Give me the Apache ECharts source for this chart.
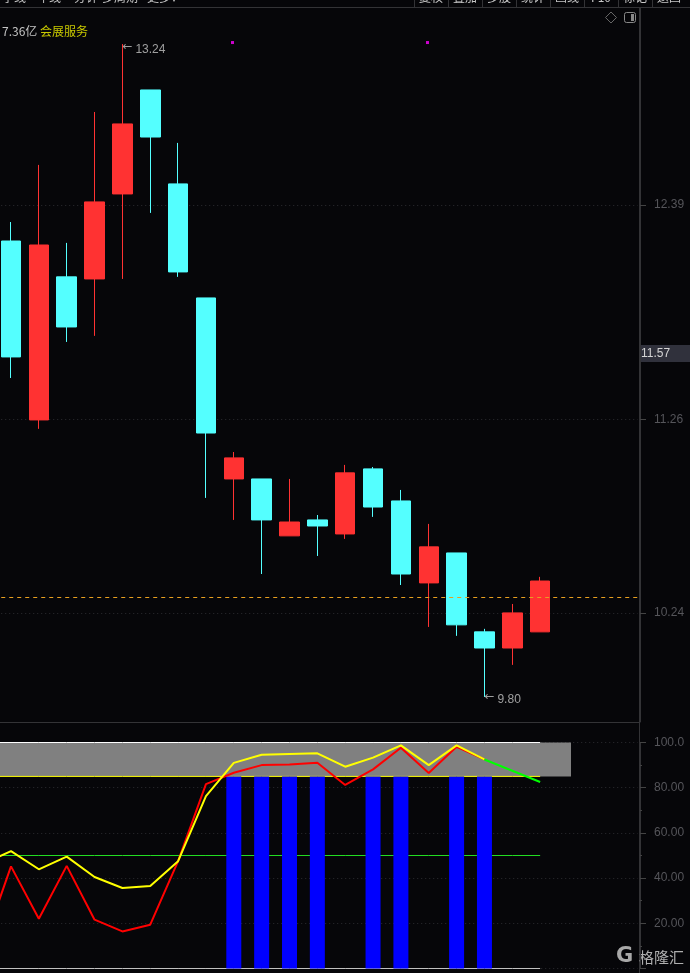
<!DOCTYPE html>
<html>
<head>
<meta charset="utf-8">
<style>html,body{margin:0;padding:0;background:#060609}#c{width:690px;height:973px}</style>
<script src="https://cdn.jsdelivr.net/npm/echarts@6/dist/echarts.min.js"></script>
</head>
<body>
<div id="c"></div>
<script>
// index 0 is a lead-in session that lies left of the visible window
const categories = ['0','1','2','3','4','5','6','7','8','9','10','11','12','13','14','15','16','17','18','19','20','21','22','23'];
const opens  = [null,12.200,11.257,12.011,12.000,12.448,12.996,12.501,11.900,10.946,10.946,10.646,10.730,10.656,10.999,10.830,10.398,10.556,10.140,10.055,10.140];
const closes = [null,11.589,12.179,11.747,12.406,12.817,12.748,12.037,11.188,11.057,10.730,10.719,10.698,10.978,10.798,10.445,10.588,10.177,10.055,10.240,10.408];
const lows   = [null,11.478,11.210,11.668,11.700,12.000,12.348,12.011,10.846,10.730,10.445,10.646,10.540,10.630,10.746,10.387,10.166,10.119,9.797,9.966,10.140];
const highs  = [null,12.300,12.601,12.190,12.880,13.238,12.996,12.717,11.900,11.088,10.946,10.946,10.756,11.020,11.009,10.888,10.709,10.556,10.156,10.287,10.430];
const priceTicks = [10.24,11.26,12.39];
const lastPrice = 10.324;
const extremes = [{idx:5,value:13.24,text:'13.24',dy:6},{idx:18,value:9.80,text:'9.80',dy:3}];
const markerDots = [[9,13.246],[16,13.246]];

const yellowLine = [46.3,51.9,43.9,49.5,40.5,35.6,36.5,47.5,76.3,91.0,94.6,94.9,95.2,89.3,93.3,98.7,90.0,98.7,92.5];
const redLine    = [9.9,45.2,22.0,45.4,21.6,16.4,19.4,47.5,81.6,86.6,90.0,90.3,91.0,81.2,88.1,97.7,86.5,98.1,92.5];
const greenLine  = [null,null,null,null,null,null,null,null,null,null,null,null,null,null,null,null,null,null,92.5,87.5,82.5];
const blueBars   = [null,null,null,null,null,null,null,null,null,85,85,85,85,null,85,85,null,85,85];
const refSpan = [0,20];
const bandSpan = [0,21];
const oscBand = [85,100];
const oscLevels = [{v:100,c:'#ffffff'},{v:85,c:'#ffff00'},{v:50,c:'#22dd22'},{v:0,c:'#c0c0c0'}];

const toolbarLeft = [['季线',14],['年线',49],['分钟',86],['多周期',120],['更多▾',162]];
const toolbarRight = ['复权','叠加','多股','统计','画线','F10','标记','返回'];

const FONT = '"Liberation Sans",Arial,sans-serif';
const CJK = '"Noto Sans CJK SC",sans-serif';
const AXC = '#333336', LBL = '#55555a';

const graphics = [
  {type:'line',shape:{x1:0,y1:7.5,x2:690,y2:7.5},style:{stroke:AXC}},
  {type:'line',shape:{x1:0,y1:722.5,x2:640,y2:722.5},style:{stroke:AXC}},
  {type:'line',shape:{x1:639.5,y1:7,x2:639.5,y2:973},style:{stroke:AXC}},
  {type:'text',x:2,y:31,style:{text:'7.36亿',fill:'#c4c4c4',font:'12px '+CJK,verticalAlign:'middle'}},
  {type:'text',x:40,y:31,style:{text:'会展服务',fill:'#c8c800',font:'12px '+CJK,verticalAlign:'middle'}},
  {type:'polygon',shape:{points:[[611,12],[616.5,17.5],[611,23],[605.5,17.5]]},style:{fill:'none',stroke:'#666'}},
  {type:'rect',shape:{x:624.5,y:12.5,width:11,height:10,r:2},style:{fill:'none',stroke:'#888'}},
  {type:'rect',shape:{x:631,y:14,width:3,height:7},style:{fill:'#888'}},
  {type:'rect',shape:{x:640,y:345,width:50,height:17},style:{fill:'#30313c'}},
  {type:'text',x:641,y:353.5,style:{text:'11.57',fill:'#d4d4d4',font:'12px '+FONT,verticalAlign:'middle'}},
  {type:'text',x:616,y:957,style:{text:'G',fill:'#a8a8a8',font:'bold 21px "DejaVu Sans"',verticalAlign:'middle'}},
  {type:'text',x:639,y:957,style:{text:'格隆汇',fill:'#b0b0b0',font:'15px '+CJK,verticalAlign:'middle'}}
];
toolbarLeft.forEach(t=>graphics.push({type:'text',x:t[1],y:-3,style:{text:t[0],fill:'#c8c8c8',font:'12px '+CJK,align:'center',verticalAlign:'middle'}}));
toolbarRight.forEach((t,i)=>{
  graphics.push({type:'text',x:431+i*34,y:-3,style:{text:t,fill:'#c8c8c8',font:'12px '+CJK,align:'center',verticalAlign:'middle'}});
  graphics.push({type:'line',shape:{x1:414.5+i*34,y1:0,x2:414.5+i*34,y2:7},style:{stroke:AXC}});
});

const refSeries = oscLevels.map(l=>({
  type:'line',xAxisIndex:1,yAxisIndex:1,z:3,silent:true,showSymbol:false,
  lineStyle:{color:l.c,width:1},
  data:categories.slice(refSpan[0],refSpan[1]+1).map(()=>l.v)
}));

const chart = echarts.init(document.getElementById('c'),null,{renderer:'canvas'});
chart.setOption({
  animation:false,
  backgroundColor:'#060609',
  graphic:graphics,
  grid:[
    {left:-30.775,width:668.4,top:8,height:714,outerBoundsMode:'none'},
    {left:-30.775,width:668.4,top:742.5,height:226,outerBoundsMode:'none'}
  ],
  xAxis:[
    {type:'category',data:categories,gridIndex:0,show:false},
    {type:'category',data:categories,gridIndex:1,show:false}
  ],
  yAxis:[
    {type:'value',gridIndex:0,position:'right',offset:2.4,min:9.665,max:13.428,scale:true,
      axisLine:{show:true,lineStyle:{color:AXC}},
      axisTick:{show:true,length:6,inside:false,customValues:priceTicks,lineStyle:{color:'#444'}},
      axisLabel:{margin:14,color:LBL,fontFamily:FONT,fontSize:12,customValues:priceTicks,formatter:v=>v.toFixed(2)},
      splitLine:{show:true,lineStyle:{color:'#2c2c30',type:[1,3]}}},
    {type:'value',gridIndex:1,position:'right',offset:2.4,min:0,max:100,interval:20,
      axisLine:{show:true,lineStyle:{color:AXC}},
      axisTick:{show:true,length:6,lineStyle:{color:'#444'}},
      minorTick:{show:true,splitNumber:2,length:2,lineStyle:{color:'#444'}},
      axisLabel:{margin:14,color:LBL,fontFamily:FONT,fontSize:12,formatter:v=>v===0?'':(v===100?'100.0':v.toFixed(2))},
      splitLine:{show:true,lineStyle:{color:'#2c2c30',type:[1,3]}}}
  ],
  series:[
    {type:'candlestick',xAxisIndex:0,yAxisIndex:0,barWidth:20,z:3,
      data:opens.map((o,i)=>o===null?'-':[o,closes[i],lows[i],highs[i]]),
      itemStyle:{color:'#ff3232',color0:'#54ffff',borderColor:'#ff3232',borderColor0:'#54ffff',borderWidth:1},
      markLine:{silent:true,symbol:'none',label:{show:false},
        lineStyle:{color:'#e8a020',type:[4,4],width:1},data:[{yAxis:lastPrice}]}},
    {type:'scatter',xAxisIndex:0,yAxisIndex:0,z:5,symbol:'rect',symbolSize:3,symbolOffset:[-1.28,0],
      itemStyle:{color:'#ff00ff'},data:markerDots},
    {type:'scatter',xAxisIndex:0,yAxisIndex:0,z:6,symbolSize:0,
      data:extremes.map(e=>({value:[e.idx,e.value],label:{show:true,position:'right',distance:0,offset:[0,e.dy],
        formatter:'{a|←}{b|'+e.text+'}',
        rich:{a:{fontFamily:'"DejaVu Sans"',fontSize:12,color:'#c4c4c4',width:13,align:'left',padding:[0,0,6,0]},
              b:{fontFamily:FONT,fontSize:12,color:'#c4c4c4'}}}}))},
    {type:'custom',xAxisIndex:1,yAxisIndex:1,z:2,silent:true,encode:{x:[0,1],y:[2,3]},
      data:[[bandSpan[0],bandSpan[1],oscBand[0],oscBand[1]]],
      renderItem:(p,api)=>{
        const a=api.coord([api.value(0),api.value(3)]);
        const b=api.coord([api.value(1),api.value(2)]);
        return {type:'rect',shape:{x:a[0],y:a[1],width:b[0]+3-a[0],height:b[1]-a[1]},style:{fill:'#808080'}};
      }},
    ...refSeries,
    {type:'bar',xAxisIndex:1,yAxisIndex:1,z:4,barWidth:15,itemStyle:{color:'#0000ff'},data:blueBars},
    {type:'line',xAxisIndex:1,yAxisIndex:1,z:5,showSymbol:false,lineStyle:{color:'#ff0000',width:2},data:redLine},
    {type:'line',xAxisIndex:1,yAxisIndex:1,z:6,showSymbol:false,lineStyle:{color:'#ffff00',width:2},data:yellowLine},
    {type:'line',xAxisIndex:1,yAxisIndex:1,z:7,showSymbol:false,connectNulls:false,lineStyle:{color:'#00ff00',width:2},data:greenLine}
  ]
});
</script>
</body>
</html>
